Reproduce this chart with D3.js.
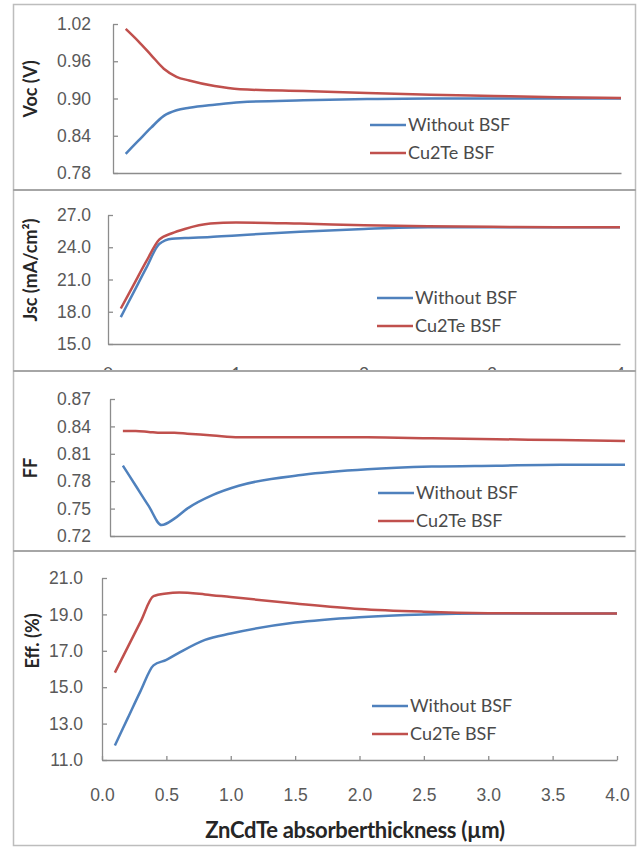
<!DOCTYPE html>
<html>
<head>
<meta charset="utf-8">
<script src="https://cdn.jsdelivr.net/npm/d3@7"></script>
<style>
  body { margin: 0; background: #fff; }
  svg { display: block; font-family: Lato, "Open Sans", sans-serif; }
  .axis path, .axis line { stroke: #8c8c8c; stroke-width: 1.3px; }
  .axis text { fill: #595959; font-size: 17.5px; }
  .ytitle, .xtitle { fill: #262626; font-weight: bold; }
  .legend text { fill: #4a4a4a; font-size: 18px; }
</style>
</head>
<body>
<div id="chart"></div>
<script>
// thickness of the ZnCdTe absorber (um)
var thickness = [0.1, 0.2, 0.3, 0.4, 0.5, 0.6, 0.8, 1.0, 1.5, 2.0, 2.5, 3.0, 3.5, 4.0];

var vocWithout = [0.811, 0.832, 0.853, 0.872, 0.881, 0.885, 0.890, 0.894, 0.897, 0.899, 0.900, 0.900, 0.900, 0.900];
var vocCu2Te   = [1.012, 0.992, 0.970, 0.948, 0.935, 0.929, 0.920, 0.915, 0.912, 0.909, 0.906, 0.904, 0.902, 0.901];

var jscWithout = [17.5, 19.8, 22.1, 24.3, 24.8, 24.85, 24.95, 25.1, 25.45, 25.7, 25.85, 25.85, 25.85, 25.85];
var jscCu2Te   = [18.3, 20.5, 22.7, 24.7, 25.3, 25.7, 26.2, 26.3, 26.2, 26.05, 25.95, 25.9, 25.85, 25.85];

var ffWithout = [0.797, 0.775, 0.753, 0.732, 0.739, 0.750, 0.765, 0.775, 0.787, 0.793, 0.796, 0.797, 0.798, 0.798];
var ffCu2Te   = [0.835, 0.835, 0.834, 0.833, 0.833, 0.832, 0.830, 0.828, 0.828, 0.828, 0.827, 0.826, 0.825, 0.824];

var effWithout = [11.8, 13.3, 14.8, 16.2, 16.5, 16.9, 17.6, 17.95, 18.55, 18.85, 19.0, 19.05, 19.05, 19.05];
var effCu2Te   = [15.8, 17.2, 18.6, 20.0, 20.15, 20.2, 20.1, 19.95, 19.6, 19.3, 19.15, 19.07, 19.05, 19.05];

var seriesNames = ['Without BSF', 'Cu2Te BSF'];
var seriesColors = ['#4f81bd', '#c0504d'];

var vocTicks = [0.78, 0.84, 0.90, 0.96, 1.02];
var jscTicks = [15, 18, 21, 24, 27];
var ffTicks = [0.72, 0.75, 0.78, 0.81, 0.84, 0.87];
var effTicks = [11, 13, 15, 17, 19, 21];
var xTicks = [0, 0.5, 1, 1.5, 2, 2.5, 3, 3.5, 4];
var xCutTicks = [0, 1, 2, 3, 4];

var width = 640, height = 847;

var svg = d3.select('#chart').append('svg')
    .attr('width', width)
    .attr('height', height);

// panels: data + where they sit on the page
var panels = [
    {title: 'Voc (V)', ticks: vocTicks, fmt: '.2f', series: [vocWithout, vocCu2Te],
     left: 113, right: 621, top: 24, bottom: 173, pad: 22, tx: 31, ty: 89, legend: [370, 125]},
    {title: 'Jsc (mA/cm²)', ticks: jscTicks, fmt: '.1f', series: [jscWithout, jscCu2Te],
     left: 108, right: 620, top: 215, bottom: 344, pad: 17, tx: 31, ty: 270, legend: [377, 298]},
    {title: 'FF', ticks: ffTicks, fmt: '.2f', series: [ffWithout, ffCu2Te],
     left: 110, right: 625, top: 399, bottom: 536, pad: 19, tx: 31, ty: 468, legend: [378, 493]},
    {title: 'Eff. (%)', ticks: effTicks, fmt: '.1f', series: [effWithout, effCu2Te],
     left: 102, right: 617, top: 578, bottom: 760, pad: 19, tx: 33, ty: 641, legend: [372, 706]}
];

// frame and panel dividers
svg.append('rect')
    .attr('x', 13.5).attr('y', 4.5)
    .attr('width', 622).attr('height', 841)
    .attr('fill', 'none')
    .attr('stroke', '#bdbdbd')
    .attr('stroke-width', 1.5);

[190, 371, 551].forEach(function(y) {
    svg.append('line')
        .attr('x1', 13).attr('x2', 636)
        .attr('y1', y).attr('y2', y)
        .attr('stroke', '#a6a6a6')
        .attr('stroke-width', 2);
});

panels.forEach(function(p, pi) {
    var x = d3.scaleLinear().domain([0, 4]).range([p.left, p.right]),
        y = d3.scaleLinear().domain(d3.extent(p.ticks)).range([p.bottom, p.top]),
        g = svg.append('g');

    var yAxis = d3.axisLeft(y)
        .tickValues(p.ticks)
        .tickFormat(d3.format(p.fmt))
        .tickSizeInner(-5)
        .tickSizeOuter(0)
        .tickPadding(p.pad);

    g.append('g')
        .attr('class', 'axis')
        .attr('transform', 'translate(' + p.left + ',0)')
        .call(yAxis);

    var xAxis = d3.axisBottom(x)
        .tickValues(pi === 3 ? xTicks : [])
        .tickFormat(d3.format('.1f'))
        .tickSizeInner(-4)
        .tickSizeOuter(0)
        .tickPadding(29);

    g.append('g')
        .attr('class', 'axis')
        .attr('transform', 'translate(0,' + p.bottom + ')')
        .call(xAxis);

    g.append('text')
        .attr('class', 'ytitle')
        .attr('transform', 'translate(' + p.tx + ',' + p.ty + ') rotate(-90)')
        .attr('text-anchor', 'middle')
        .attr('dy', '0.35em')
        .style('font-size', '18px')
        .text(p.title);

    var line = d3.line()
        .x(function(d, i) { return x(thickness[i]); })
        .y(function(d) { return y(d); })
        .curve(d3.curveMonotoneX);

    p.series.forEach(function(values, si) {
        g.append('path')
            .datum(values)
            .attr('fill', 'none')
            .attr('stroke', seriesColors[si])
            .attr('stroke-width', 2.5)
            .attr('d', line);
    });

    var legend = g.append('g')
        .attr('class', 'legend')
        .attr('transform', 'translate(' + p.legend[0] + ',' + p.legend[1] + ')');

    seriesNames.forEach(function(name, si) {
        legend.append('line')
            .attr('x1', 0).attr('x2', 36)
            .attr('y1', si * 28).attr('y2', si * 28)
            .attr('stroke', seriesColors[si])
            .attr('stroke-width', 2.5);
        legend.append('text')
            .attr('x', 38)
            .attr('y', si * 28)
            .attr('dy', '0.35em')
            .text(name);
    });

    // second panel: its tick labels were cut off by the next panel
    if (pi === 1) {
        svg.append('clipPath').attr('id', 'cut')
            .append('rect').attr('x', 0).attr('y', 366).attr('width', width).attr('height', 4);
        svg.append('g')
            .attr('clip-path', 'url(#cut)')
            .selectAll('text')
            .data(xCutTicks)
            .enter()
            .append('text')
            .attr('x', function(d) { return x(d); })
            .attr('y', 380)
            .attr('text-anchor', 'middle')
            .style('font-size', '17.5px')
            .attr('fill', '#595959')
            .text(function(d) { return d; });
    }
});

svg.append('text')
    .attr('class', 'xtitle')
    .attr('x', 355)
    .attr('y', 830)
    .attr('dy', '0.35em')
    .attr('text-anchor', 'middle')
    .style('font-size', '22px')
    .style('letter-spacing', '-0.3px')
    .text('ZnCdTe absorberthickness (µm)');
</script>
</body>
</html>
